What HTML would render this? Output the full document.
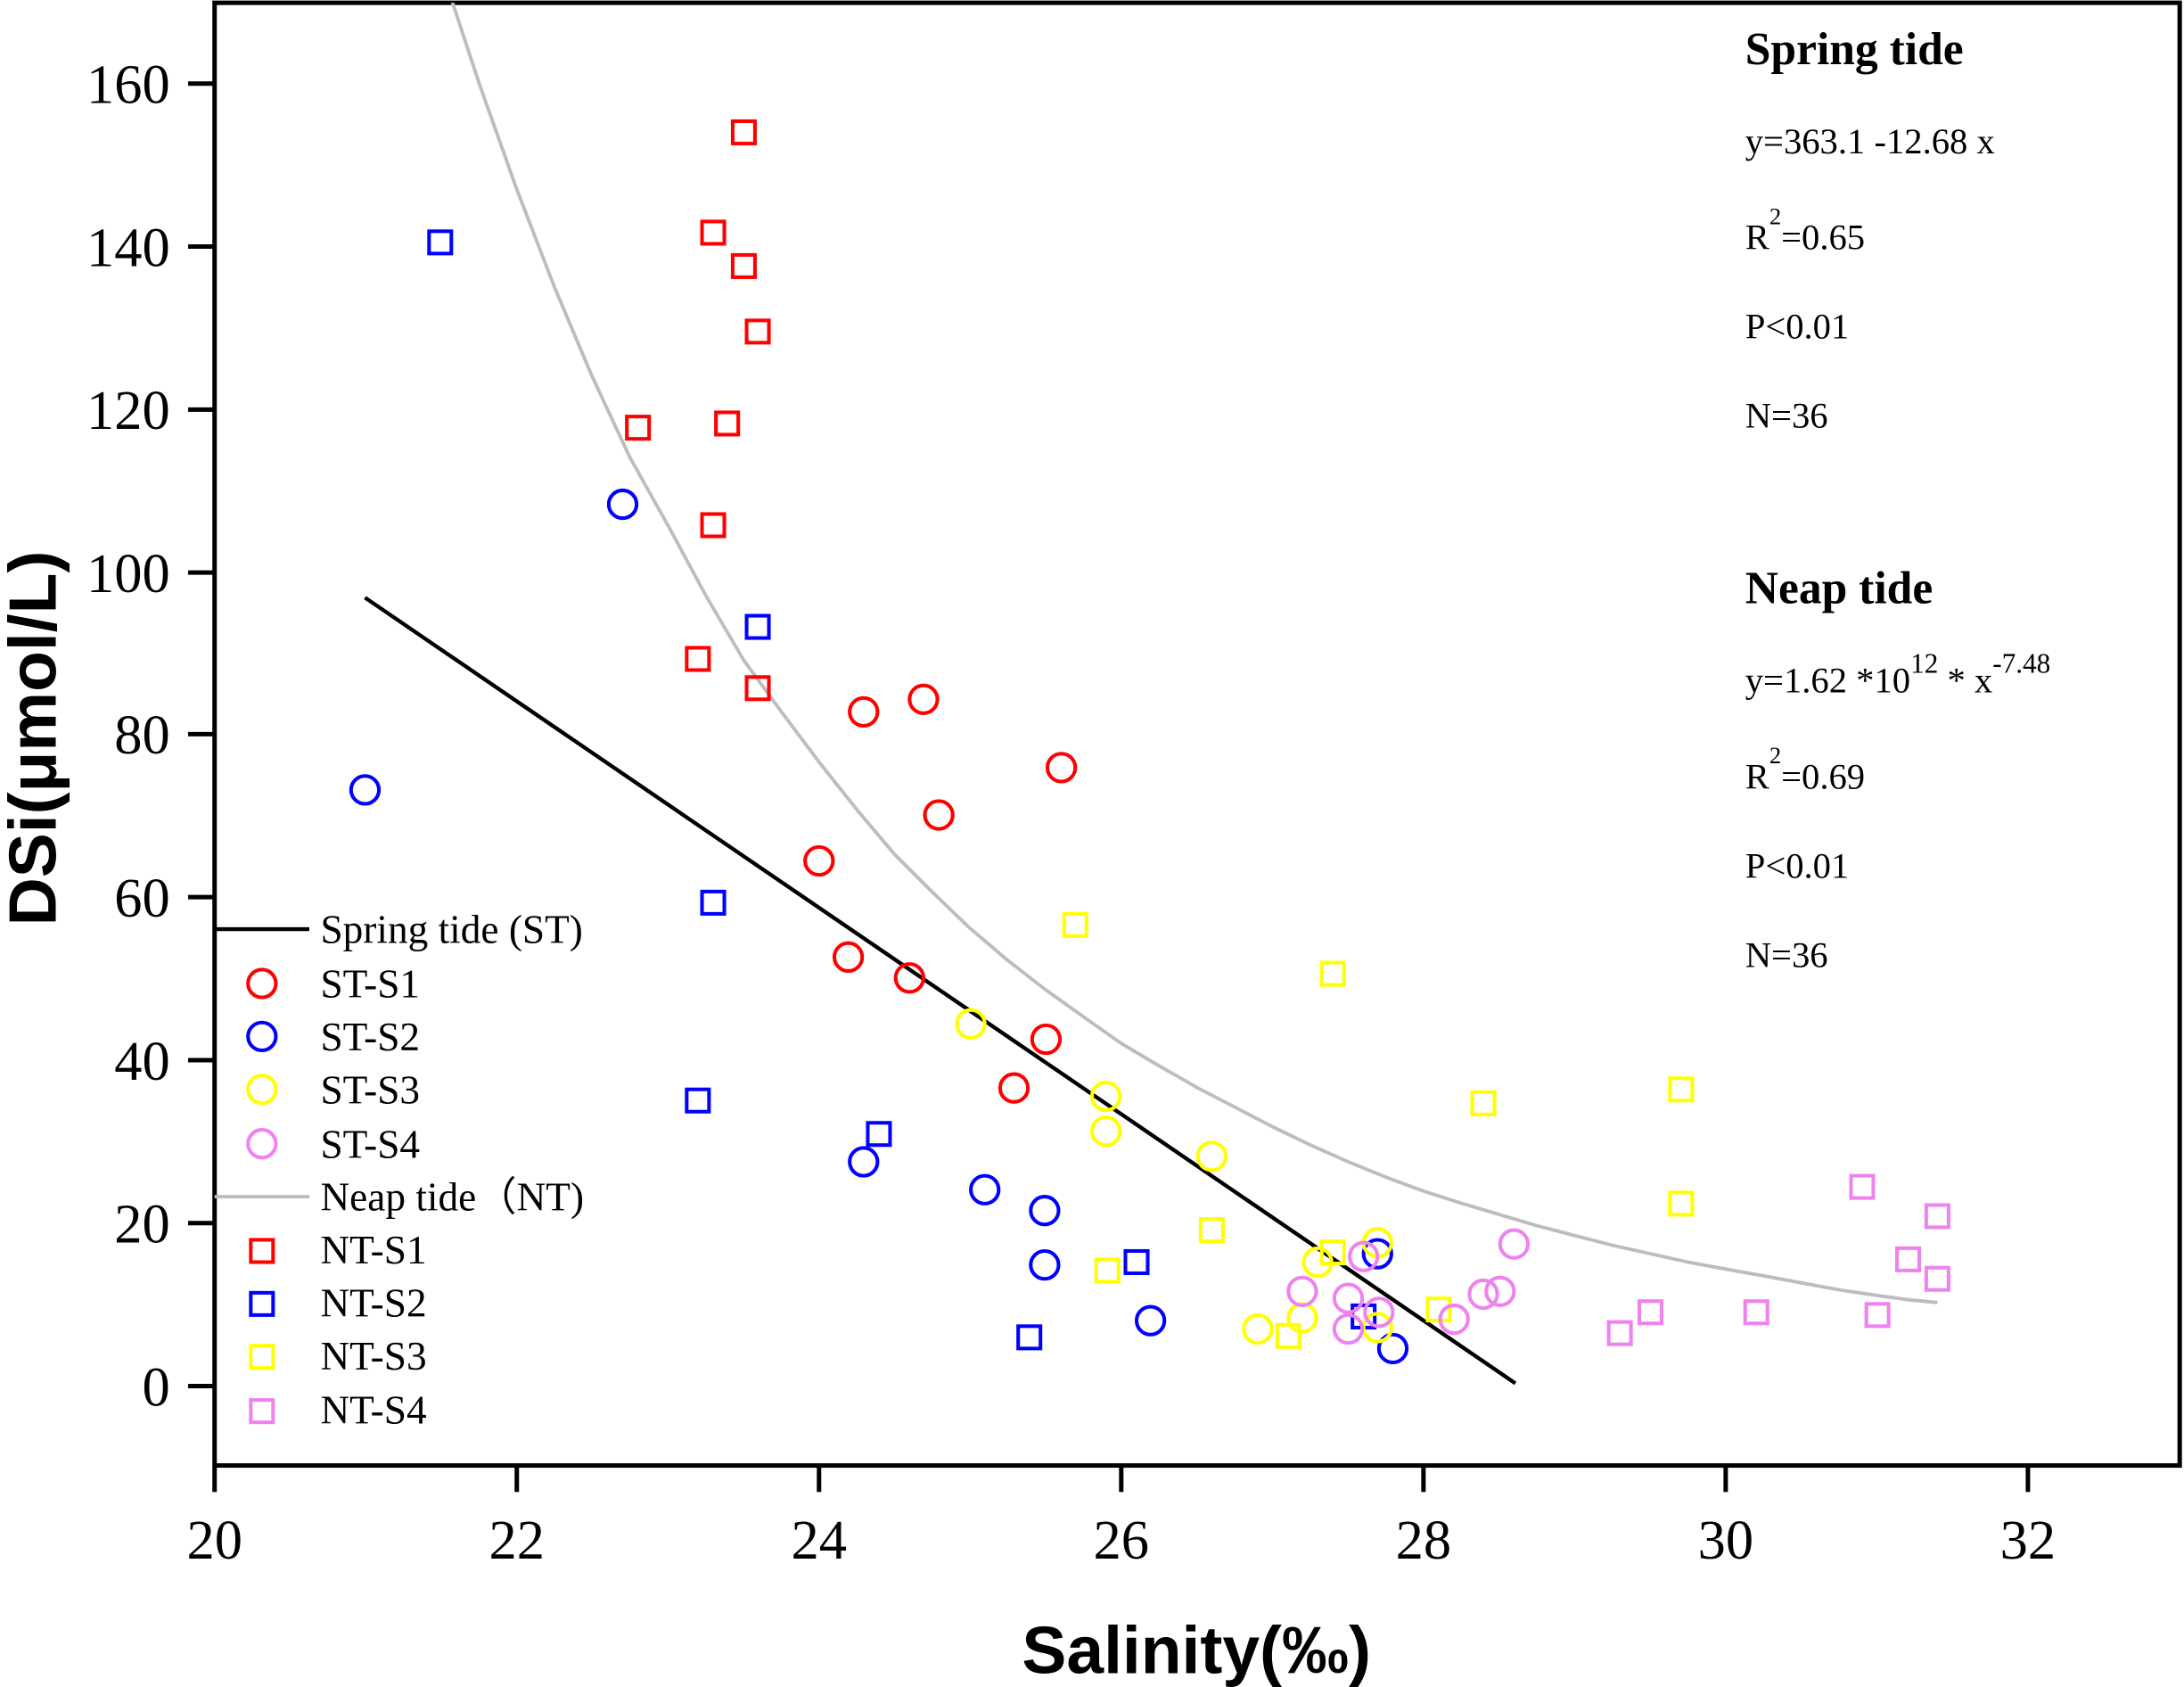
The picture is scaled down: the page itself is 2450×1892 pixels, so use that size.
<!DOCTYPE html>
<html><head><meta charset="utf-8"><style>
html,body{margin:0;padding:0;background:#fff}
svg{display:block}
</style></head><body>
<svg width="2450" height="1892" viewBox="0 0 1568 1211" xmlns="http://www.w3.org/2000/svg" font-family="'Liberation Serif', serif">
<defs>
<clipPath id="c"><rect x="154" y="2" width="1411" height="1050"/></clipPath>
</defs>
<rect x="0" y="0" width="1568" height="1211" fill="#fff"/>
<rect x="154" y="2" width="1411" height="1050" fill="none" stroke="#000" stroke-width="3.2"/>
<g stroke="#000" stroke-width="3.2">
<line x1="135" y1="995" x2="154" y2="995"/><line x1="135" y1="878" x2="154" y2="878"/>
<line x1="135" y1="761" x2="154" y2="761"/><line x1="135" y1="644" x2="154" y2="644"/>
<line x1="135" y1="527" x2="154" y2="527"/><line x1="135" y1="411" x2="154" y2="411"/>
<line x1="135" y1="294" x2="154" y2="294"/><line x1="135" y1="177" x2="154" y2="177"/>
<line x1="135" y1="60" x2="154" y2="60"/>
<line x1="154" y1="1052" x2="154" y2="1071"/><line x1="371" y1="1052" x2="371" y2="1071"/>
<line x1="588" y1="1052" x2="588" y2="1071"/><line x1="805" y1="1052" x2="805" y2="1071"/>
<line x1="1022" y1="1052" x2="1022" y2="1071"/><line x1="1239" y1="1052" x2="1239" y2="1071"/>
<line x1="1456" y1="1052" x2="1456" y2="1071"/>
</g>
<g font-size="40" text-anchor="end" font-family="'Liberation Serif', serif">
<text x="122" y="1009">0</text><text x="122" y="892">20</text><text x="122" y="775">40</text>
<text x="122" y="658">60</text><text x="122" y="541">80</text><text x="122" y="425">100</text>
<text x="122" y="308">120</text><text x="122" y="191">140</text><text x="122" y="74">160</text>
</g>
<g font-size="40" text-anchor="middle" font-family="'Liberation Serif', serif">
<text x="154" y="1119">20</text><text x="371" y="1119">22</text><text x="588" y="1119">24</text>
<text x="805" y="1119">26</text><text x="1022" y="1119">28</text><text x="1239" y="1119">30</text>
<text x="1456" y="1119">32</text>
</g>
<text x="859" y="1201" font-size="48" font-weight="bold" text-anchor="middle" font-family="'Liberation Sans', sans-serif">Salinity(‰)</text>
<text transform="translate(40,530) rotate(-90)" font-size="48" font-weight="bold" text-anchor="middle" font-family="'Liberation Sans', sans-serif">DSi(μmol/L)</text>

<g clip-path="url(#c)">
<polyline fill="none" stroke="#bdbdbd" stroke-width="2.5" stroke-linejoin="round" points="317,-22 344,60 371,136 398,206 425,270 452,328 480,378 507,428 534,474 561,511 588,547 615,581 642,613 669,640 696,666 723,689 750,710 778,730 805,749 832,765 860,781 887,795 914,809 941,822 968,834 995,845 1022,855 1050,864 1077,872 1104,880 1131,887 1158,894 1185,900 1212,906 1239,911 1267,916 1294,921 1321,926 1348,930 1370,933 1391,935"/>
<line x1="262" y1="429" x2="1088" y2="993" stroke="#000" stroke-width="2.8"/>
</g>

<g fill="none" stroke-width="2.6">
<g stroke="#ff0000">
<rect x="526" y="87" width="16" height="16"/><rect x="504" y="159" width="16" height="16"/><rect x="526" y="183" width="16" height="16"/><rect x="536" y="230" width="16" height="16"/><rect x="450" y="299" width="16" height="16"/><rect x="514" y="296" width="16" height="16"/><rect x="504" y="369" width="16" height="16"/><rect x="493" y="465" width="16" height="16"/><rect x="536" y="486" width="16" height="16"/>
<circle cx="620" cy="511" r="10"/><circle cx="663" cy="502" r="10"/><circle cx="762" cy="551" r="10"/><circle cx="674" cy="585" r="10"/><circle cx="588" cy="618" r="10"/><circle cx="609" cy="687" r="10"/><circle cx="653" cy="702" r="10"/><circle cx="751" cy="746" r="10"/><circle cx="728" cy="781" r="10"/>
</g>
<g stroke="#0000ff">
<rect x="308" y="166" width="16" height="16"/><rect x="536" y="442" width="16" height="16"/><rect x="504" y="640" width="16" height="16"/><rect x="493" y="782" width="16" height="16"/><rect x="623" y="806" width="16" height="16"/><rect x="731" y="952" width="16" height="16"/><rect x="808" y="898" width="16" height="16"/><rect x="971" y="937" width="16" height="16"/>
<circle cx="447" cy="362" r="10"/><circle cx="262" cy="567" r="10"/><circle cx="620" cy="834" r="10"/><circle cx="707" cy="854" r="10"/><circle cx="750" cy="869" r="10"/><circle cx="750" cy="908" r="10"/><circle cx="826" cy="948" r="10"/><circle cx="989" cy="900" r="10"/><circle cx="1000" cy="968" r="10"/>
</g>
<g stroke="#ffff00">
<rect x="764" y="656" width="16" height="16"/><rect x="949" y="691" width="16" height="16"/><rect x="1057" y="784" width="16" height="16"/><rect x="1199" y="774" width="16" height="16"/><rect x="1199" y="856" width="16" height="16"/><rect x="862" y="875" width="16" height="16"/><rect x="787" y="904" width="16" height="16"/><rect x="949" y="891" width="16" height="16"/><rect x="917" y="951" width="16" height="16"/><rect x="1025" y="932" width="16" height="16"/>
<circle cx="697" cy="735" r="10"/><circle cx="794" cy="787" r="10"/><circle cx="794" cy="812" r="10"/><circle cx="870" cy="830" r="10"/><circle cx="989" cy="892" r="10"/><circle cx="946" cy="906" r="10"/><circle cx="935" cy="946" r="10"/><circle cx="903" cy="954" r="10"/><circle cx="989" cy="953" r="10"/>
</g>
<g stroke="#ee82ee">
<rect x="1329" y="844" width="16" height="16"/><rect x="1383" y="865" width="16" height="16"/><rect x="1362" y="896" width="16" height="16"/><rect x="1383" y="910" width="16" height="16"/><rect x="1340" y="936" width="16" height="16"/><rect x="1253" y="934" width="16" height="16"/><rect x="1177" y="934" width="16" height="16"/><rect x="1155" y="949" width="16" height="16"/>
<circle cx="1087" cy="893" r="10"/><circle cx="979" cy="902" r="10"/><circle cx="935" cy="927" r="10"/><circle cx="968" cy="932" r="10"/><circle cx="1065" cy="929" r="10"/><circle cx="1077" cy="927" r="10"/><circle cx="990" cy="942" r="10"/><circle cx="1044" cy="947" r="10"/><circle cx="968" cy="954" r="10"/>
</g>
</g>

<line x1="154" y1="667" x2="222" y2="667" stroke="#000" stroke-width="2.8"/>
<line x1="154" y1="859" x2="222" y2="859" stroke="#bdbdbd" stroke-width="2.5"/>
<g fill="none" stroke-width="2.6">
<circle cx="188" cy="706" r="10" stroke="#ff0000"/><circle cx="188" cy="744" r="10" stroke="#0000ff"/>
<circle cx="188" cy="782" r="10" stroke="#ffff00"/><circle cx="188" cy="821" r="10" stroke="#ee82ee"/>
<rect x="180" y="890" width="16" height="16" stroke="#ff0000"/><rect x="180" y="928" width="16" height="16" stroke="#0000ff"/>
<rect x="180" y="966" width="16" height="16" stroke="#ffff00"/><rect x="180" y="1005" width="16" height="16" stroke="#ee82ee"/>
</g>
<g font-size="29" font-family="'Liberation Serif', serif">
<text x="230" y="677">Spring tide (ST)</text>
<text x="230" y="716">ST-S1</text><text x="230" y="754">ST-S2</text><text x="230" y="792">ST-S3</text><text x="230" y="831">ST-S4</text>
<text x="230" y="869">Neap tide（NT)</text>
<text x="230" y="907">NT-S1</text><text x="230" y="945">NT-S2</text><text x="230" y="983">NT-S3</text><text x="230" y="1022">NT-S4</text>
</g>

<g font-family="'Liberation Serif', serif">
<text x="1253" y="46" font-size="33" font-weight="bold">Spring tide</text>
<g font-size="26">
<text x="1253" y="110">y=363.1 -12.68 x</text>
<text x="1253" y="179">R<tspan dy="-18" font-size="17">2</tspan><tspan dy="18">=0.65</tspan></text>
<text x="1253" y="243">P&lt;0.01</text>
<text x="1253" y="307">N=36</text>
</g>
<text x="1253" y="433" font-size="33" font-weight="bold">Neap tide</text>
<g font-size="26">
<text x="1253" y="497">y=1.62 *10<tspan dy="-14" font-size="20">12</tspan><tspan dy="14"> * x</tspan><tspan dy="-14" font-size="20">-7.48</tspan></text>
<text x="1253" y="566">R<tspan dy="-18" font-size="17">2</tspan><tspan dy="18">=0.69</tspan></text>
<text x="1253" y="630">P&lt;0.01</text>
<text x="1253" y="694">N=36</text>
</g>
</g>
</svg>
</body></html>
